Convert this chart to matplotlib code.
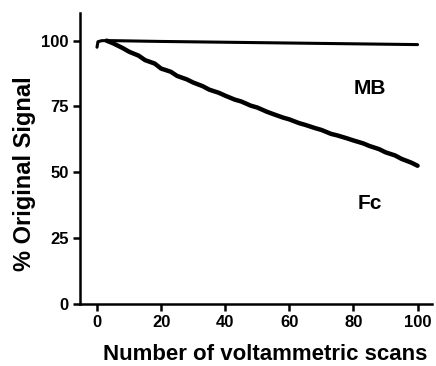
import matplotlib
matplotlib.use("Agg")
import matplotlib.pyplot as plt

plt.rcParams['font.family'] = ['Liberation Sans', 'DejaVu Sans']
plt.rcParams['font.weight'] = 'bold'

# MB signal vs scans
mb_x = [0, 0.3, 1.5, 5, 20, 40, 60, 80, 100]
mb_y = [97.5, 99.6, 100, 100, 99.7, 99.4, 99.1, 98.8, 98.5]

# Fc signal vs scans
fc_x = [3, 5, 8, 10, 13, 15, 18, 20, 23, 25, 28, 30, 33, 35, 38, 40, 43, 45, 48, 50,
        53, 55, 58, 60, 63, 65, 68, 70, 73, 75, 78, 80, 83, 85, 88, 90, 93, 95, 98, 100]
fc_y = [100, 99, 97.2, 95.8, 94.3, 92.6, 91.3, 89.4, 88.2, 86.6, 85.3, 84.1, 82.7, 81.4, 80.2,
        79.1, 77.6, 76.9, 75.3, 74.6, 73.0, 72.1, 70.8, 70.1, 68.7, 68.0, 66.8, 66.1, 64.6,
        64.0, 62.9, 62.1, 61.0, 60.0, 58.8, 57.6, 56.4, 55.1, 53.7, 52.5]

xticks = [0, 20, 40, 60, 80, 100]
yticks = [0, 25, 50, 75, 100]

fig = plt.figure(figsize=(4.36, 3.66), dpi=100)
ax = fig.add_axes([80/436, 1-304/366, 352/436, 291/366])
ax.plot(mb_x, mb_y, color='black', lw=2.2, solid_capstyle='round')
ax.plot(fc_x, fc_y, color='black', lw=3.2, solid_capstyle='round')
ax.text(85, 82, 'MB', fontsize=15, fontweight='bold', ha='center', va='center')
ax.text(85, 38, 'Fc', fontsize=15, fontweight='bold', ha='center', va='center')

ax.set_xlim(-5.3, 104.5)
ax.set_ylim(0, 110.5)
ax.set_xticks(xticks)
ax.set_yticks(yticks)
ax.spines['top'].set_visible(False)
ax.spines['right'].set_visible(False)
ax.spines['left'].set_linewidth(1.8)
ax.spines['bottom'].set_linewidth(1.8)
ax.tick_params(direction='out', length=5, width=1.8, labelsize=12, pad=3)

fig.text(265/436, 1-355/366, 'Number of voltammetric scans', fontsize=16,
         fontweight='bold', ha='center', va='center')
fig.text(24/436, 1-174/366, '% Original Signal', fontsize=17, fontweight='bold',
         ha='center', va='center', rotation=90)

fig.savefig('out.png', dpi=100)
